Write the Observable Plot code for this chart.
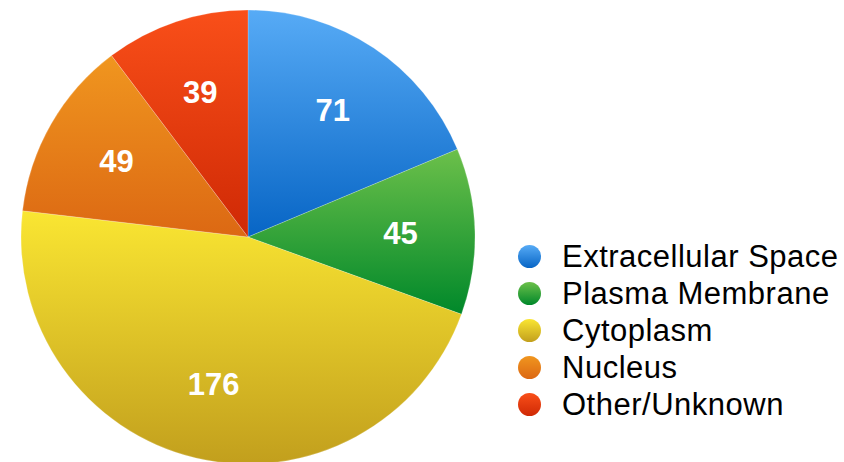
<!DOCTYPE html>
<html>
<head>
<meta charset="utf-8">
<script src="https://cdn.jsdelivr.net/npm/d3@7"></script>
<script src="https://cdn.jsdelivr.net/npm/@observablehq/plot@0.6"></script>
<style>
  html, body { margin: 0; padding: 0; background: #fff; }
  #wrap { position: relative; width: 844px; height: 462px; overflow: hidden; font-family: "Liberation Sans", Arial, Helvetica, sans-serif; }
  #chart { position: absolute; left: 0; top: 0; }
  #legend { position: absolute; left: 518px; top: 238px; }
  .item { display: flex; align-items: center; height: 37px; }
  .sw { width: 23px; height: 23px; border-radius: 50%; margin-right: 21px; }
  .lab { font-size: 31px; letter-spacing: 0.5px; color: #000; line-height: 37px; white-space: nowrap; }
</style>
</head>
<body>
<div id="wrap"><div id="chart"></div><div id="legend"></div></div>
<script>
const categories = ["Extracellular Space", "Plasma Membrane", "Cytoplasm", "Nucleus", "Other/Unknown"];
const counts = [71, 45, 176, 49, 39];
const colorTop = ["#57abf6", "#6cc04a", "#fae632", "#f0961f", "#f94f19"];
const colorBottom = ["#0765c5", "#00882a", "#c29f1d", "#dc6813", "#cf2905"];

const arcs = d3.pie().sort(null).value(d => d)(counts);
const labelR = 0.67;
const data = categories.map((c, i) => {
  const a = (arcs[i].startAngle + arcs[i].endAngle) / 2;
  return {category: c, value: counts[i], start: arcs[i].startAngle, end: arcs[i].endAngle,
          lx: labelR * Math.sin(a), ly: labelR * Math.cos(a), i};
});

const cx = 248, cy = 237, R = 227;

function slices(index, scales, values, dimensions) {
  const ns = "http://www.w3.org/2000/svg";
  const g = document.createElementNS(ns, "g");
  const defs = document.createElementNS(ns, "defs");
  g.appendChild(defs);
  const x0 = scales.x(0), y0 = scales.y(0);
  const r = scales.x(1) - scales.x(0);
  const arc = d3.arc().innerRadius(0).outerRadius(r);
  data.forEach((d, i) => {
    const lg = document.createElementNS(ns, "linearGradient");
    lg.setAttribute("id", "sg" + i);
    lg.setAttribute("x1", "0"); lg.setAttribute("y1", "0");
    lg.setAttribute("x2", "0"); lg.setAttribute("y2", "1");
    [[0, colorTop[i]], [1, colorBottom[i]]].forEach(([o, c]) => {
      const s = document.createElementNS(ns, "stop");
      s.setAttribute("offset", o); s.setAttribute("stop-color", c);
      lg.appendChild(s);
    });
    defs.appendChild(lg);
    const p = document.createElementNS(ns, "path");
    p.setAttribute("d", arc({startAngle: d.start, endAngle: d.end}));
    p.setAttribute("transform", `translate(${x0},${y0})`);
    p.setAttribute("fill", `url(#sg${i})`);
    p.setAttribute("stroke", "rgba(255,255,255,0.35)");
    p.setAttribute("stroke-width", "0.6");
    g.appendChild(p);
  });
  return g;
}

const chart = Plot.plot({
  width: 500,
  height: 462,
  margin: 0,
  x: {domain: [-1, 1], range: [cx - R, cx + R], axis: null},
  y: {domain: [-1, 1], range: [cy + R, cy - R], axis: null},
  style: {fontFamily: "'Liberation Sans', Arial, Helvetica, sans-serif", background: "transparent"},
  marks: [
    slices,
    Plot.text(data, {x: "lx", y: "ly", text: d => String(d.value), fill: "white",
      fontSize: 31, fontWeight: "bold", textAnchor: "middle", lineAnchor: "middle"})
  ]
});
document.getElementById("chart").appendChild(chart);

const legend = document.getElementById("legend");
categories.forEach((c, i) => {
  const item = document.createElement("div");
  item.className = "item";
  const sw = document.createElement("div");
  sw.className = "sw";
  sw.style.background = `linear-gradient(to bottom, ${colorTop[i]}, ${colorBottom[i]})`;
  const lab = document.createElement("div");
  lab.className = "lab";
  lab.textContent = c;
  item.appendChild(sw); item.appendChild(lab);
  legend.appendChild(item);
});
</script>
</body>
</html>
